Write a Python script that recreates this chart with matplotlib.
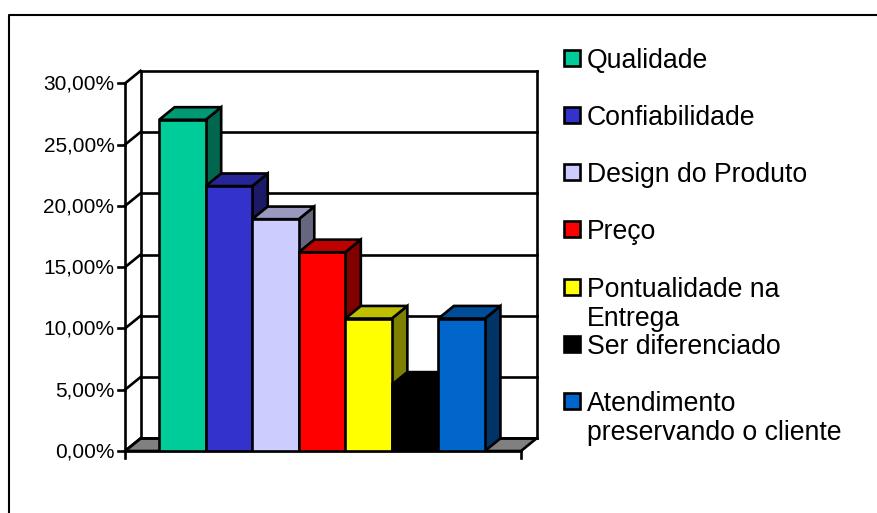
#!/usr/bin/env python3
"""Excel style 3D column chart, drawn with flat polygons on a normal axes."""

import matplotlib
matplotlib.use('Agg')
import matplotlib.pyplot as plt
from matplotlib.patches import Polygon, Rectangle
from matplotlib.colors import to_rgb

plt.rcParams['font.family'] = ['Liberation Sans', 'DejaVu Sans']

categories = ["Qualidade", "Confiabilidade", "Design do Produto", "Preço",
              "Pontualidade na\nEntrega", "Ser diferenciado",
              "Atendimento\npreservando o cliente"]
values = [27.03, 21.62, 18.92, 16.22, 10.81, 5.41, 10.81]
colors = ["#00CC99", "#3333CC", "#CCCCFF", "#FF0000", "#FFFF00", "#000000", "#0066CC"]
y_ticks = [0, 5, 10, 15, 20, 25, 30]
legend_y = [58, 115, 172, 229, 287, 344, 401]

W, H = 877, 513
LW = 1.9

# front plane of the chart, in pixels
x0, x1 = 125, 521
y0, y30 = 451, 83.4
# one column is 46.4 px wide, depth of the box in data units
BAR_PX = 46.4
DX = 15.5 / BAR_PX
DY = 12.6 / ((y0 - y30) / 30)


def shade(color, f):
    return tuple(c * f for c in to_rgb(color))


fig = plt.figure(figsize=(W / 100, H / 100), dpi=100)
ax = fig.add_axes([x0 / W, 1 - y0 / H, (x1 - x0) / W, (y0 - y30) / H])
ax.set_xlim(-34 / BAR_PX, 7 + 36 / BAR_PX)
ax.set_ylim(0, 30)
ax.axis('off')

xl, xr = ax.get_xlim()
kw = dict(color='black', lw=LW, clip_on=False, solid_capstyle='projecting')

# floor
ax.add_patch(Polygon([(xl, 0), (xr, 0), (xr + DX, DY), (xl + DX, DY)], closed=True,
                     fc='#808080', ec='black', lw=LW, clip_on=False))

# back wall grid, side wall edges and ticks
for t in y_ticks:
    ax.plot([xl + DX, xr + DX], [t + DY, t + DY], **kw)
    ax.plot([xl, xl + DX], [t, t + DY], **kw)
    ax.plot([xl - 7 / BAR_PX, xl], [t, t], **kw)
ax.plot([xl, xl], [0, 30], **kw)
ax.plot([xl + DX, xl + DX], [DY, 30 + DY], **kw)
ax.plot([xr + DX, xr + DX], [DY, 30 + DY], **kw)
ax.plot([xl, xr], [0, 0], **kw)
ax.plot([xl, xl], [0, -0.55], **kw)
ax.plot([xr, xr], [0, -0.55], **kw)

for t in y_ticks:
    ax.text(xl - 10.5 / BAR_PX, t - 0.08, f"{t:.2f}%".replace('.', ','), ha='right',
            va='center', fontsize=15)

# columns, drawn left to right so each one covers the side of the previous one
for i, (v, c) in enumerate(zip(values, colors)):
    ax.add_patch(Polygon([(i + 1, 0), (i + 1 + DX, DY), (i + 1 + DX, v + DY), (i + 1, v)],
                         closed=True, fc=shade(c, 0.5), ec='black', lw=LW, zorder=3 + i))
    ax.add_patch(Polygon([(i, v), (i + DX, v + DY), (i + 1 + DX, v + DY), (i + 1, v)],
                         closed=True, fc=shade(c, 0.75), ec='black', lw=LW, zorder=3 + i))
    ax.add_patch(Rectangle((i, 0), 1, v, fc=c, ec='black', lw=LW, zorder=3 + i))

# legend and chart frame live in figure pixels
bg = fig.add_axes([0, 0, 1, 1], zorder=5)
bg.set_xlim(0, W)
bg.set_ylim(H, 0)
bg.axis('off')
bg.patch.set_alpha(0)
for name, c, ly in zip(categories, colors, legend_y):
    bg.add_patch(Rectangle((564, ly - 8), 16, 16, fc=c, ec='black', lw=LW))
    bg.text(587, ly - 10, name, ha='left', va='top', fontsize=19.2, linespacing=1.17)
bg.plot([8.5, 8.5, 877], [513, 14.5, 14.5], color='black', lw=1.5, clip_on=False)

fig.savefig('out.png', dpi=100)
plt.close(fig)
